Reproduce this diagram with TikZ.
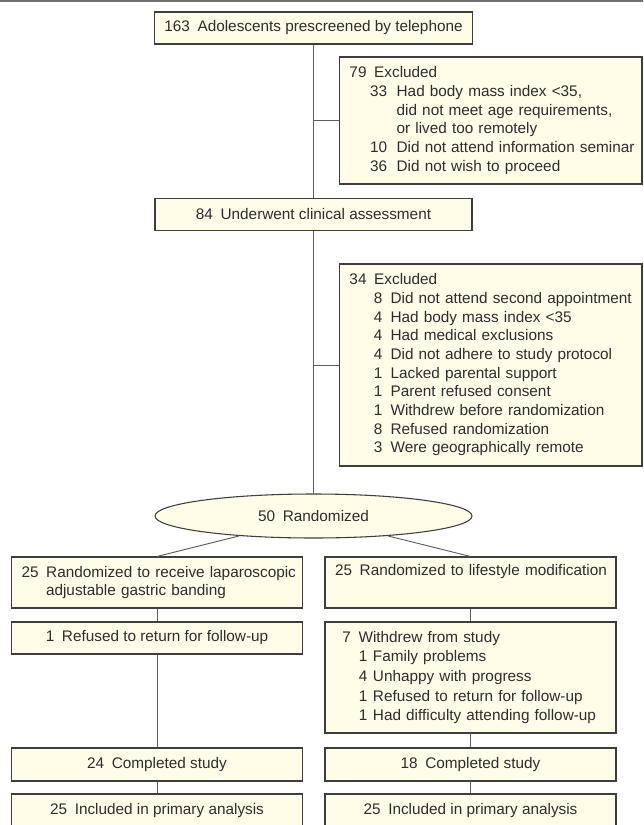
\documentclass[tikz,border=0pt]{standalone}
\usepackage{fontspec}
\setmainfont{Liberation Sans}
\usepackage{xcolor}
\usetikzlibrary{shapes,positioning,calc}

\definecolor{boxfill}{RGB}{255,252,232}
\definecolor{boxline}{RGB}{62,62,62}
\definecolor{linkgray}{RGB}{95,95,95}
\definecolor{txtgray}{RGB}{45,45,45}
\definecolor{rulegray}{RGB}{110,110,110}

% indent, number column, number, text
\newcommand{\sub}[4]{\mbox{\hspace*{#1}\makebox[#2][l]{#3}#4}}

\begin{document}
\begin{tikzpicture}[x=0.75pt, y=-0.75pt,
    box/.style={draw=boxline, fill=boxfill, line width=0.8pt, inner xsep=7.5pt, inner ysep=0pt,
        text=txtgray, font=\fontsize{11.5pt}{14pt}\selectfont},
    widebox/.style={box, minimum width=237.75pt, minimum height=24.5pt},
    sidebox/.style={box, text width=211.9pt, align=left},
    armbox/.style={box, minimum width=218.25pt, minimum height=24.75pt},
    armlist/.style={box, text width=203.25pt, align=left},
    link/.style={draw=linkgray, line width=0.7pt}]
    \path[use as bounding box] (0,0) rectangle (643,825);
    \clip (0,0) rectangle (643,825);
    \draw[draw=rulegray, line width=1.2pt] (0,0.8) -- (643,0.8);

    % main column
    \node[widebox, minimum height=24pt] (screen) at (313.5,28) {163\enspace Adolescents prescreened by telephone};
    \node[sidebox, minimum height=95.25pt] (excl1) at (490.75,120.5) {79\enspace Excluded\\
        \sub{15.4pt}{20pt}{33}{Had body mass index <35,}\\
        \sub{35.4pt}{0pt}{}{did not meet age requirements,}\\
        \sub{35.4pt}{0pt}{}{or lived too remotely}\\
        \sub{15.4pt}{20pt}{10}{Did not attend information seminar}\\
        \sub{15.4pt}{20pt}{36}{Did not wish to proceed}};
    \node[widebox] (assess) at (313.5,214.5) {84\enspace Underwent clinical assessment};
    \node[sidebox, minimum height=151.5pt] (excl2) at (490.75,365) {34\enspace Excluded\\
        \sub{18.3pt}{12.5pt}{8}{Did not attend second appointment}\\
        \sub{18.3pt}{12.5pt}{4}{Had body mass index <35}\\
        \sub{18.3pt}{12.5pt}{4}{Had medical exclusions}\\
        \sub{18.3pt}{12.5pt}{4}{Did not adhere to study protocol}\\
        \sub{18.3pt}{12.5pt}{1}{Lacked parental support}\\
        \sub{18.3pt}{12.5pt}{1}{Parent refused consent}\\
        \sub{18.3pt}{12.5pt}{1}{Withdrew before randomization}\\
        \sub{18.3pt}{12.5pt}{8}{Refused randomization}\\
        \sub{18.3pt}{12.5pt}{3}{Were geographically remote}};
    \node[ellipse, draw=boxline, fill=boxfill, line width=0.8pt, minimum width=237.75pt, minimum height=33pt,
        inner sep=0pt, text=txtgray, font=\fontsize{11.5pt}{14pt}\selectfont] (rand) at (313.5,516) {50\enspace Randomized};

    % banding arm
    \node[armlist, minimum height=38.25pt] (lagb) at (157,582.5) {\mbox{25\enspace Randomized to receive laparoscopic}\\
        \sub{18.4pt}{0pt}{}{adjustable gastric banding}};
    \node[armbox, minimum height=24pt] (lagbout) at (157,638) {1\enspace Refused to return for follow-up};
    \node[armbox] (lagbdone) at (157,764.5) {24\enspace Completed study};
    \node[armbox] (lagbitt) at (157,810.5) {25\enspace Included in primary analysis};

    % lifestyle arm
    \node[armlist, minimum height=38.25pt] (life) at (470.5,582.5) {\mbox{25\enspace Randomized to lifestyle modification}\\ \strut};
    \node[armlist, minimum height=83.25pt, font=\fontsize{11.5pt}{14.8pt}\selectfont] (lifeout) at (470.5,677.5) {%
        \sub{5.5pt}{0pt}{}{7\enspace Withdrew from study}\\
        \sub{17.9pt}{10.6pt}{1}{Family problems}\\
        \sub{17.9pt}{10.6pt}{4}{Unhappy with progress}\\
        \sub{17.9pt}{10.6pt}{1}{Refused to return for follow-up}\\
        \sub{17.9pt}{10.6pt}{1}{Had difficulty attending follow-up}};
    \node[armbox] (lifedone) at (470.5,764.5) {18\enspace Completed study};
    \node[armbox] (lifeitt) at (470.5,810.5) {25\enspace Included in primary analysis};

    % connectors
    \draw[link] (screen) -- (assess);
    \draw[link] (assess) -- (rand);
    \draw[link] (excl1.west) -- (excl1.west -| screen.south);
    \draw[link] (excl2.west) -- (excl2.west -| assess.south);
    \draw[link] (rand.195) -- (lagb.north);
    \draw[link] (rand.345) -- (life.north);
    \draw[link] (lagb) -- (lagbout);
    \draw[link] (lagbout) -- (lagbdone);
    \draw[link] (lagbdone) -- (lagbitt);
    \draw[link] (life) -- (lifeout);
    \draw[link] (lifeout) -- (lifedone);
    \draw[link] (lifedone) -- (lifeitt);
\end{tikzpicture}
\end{document}
